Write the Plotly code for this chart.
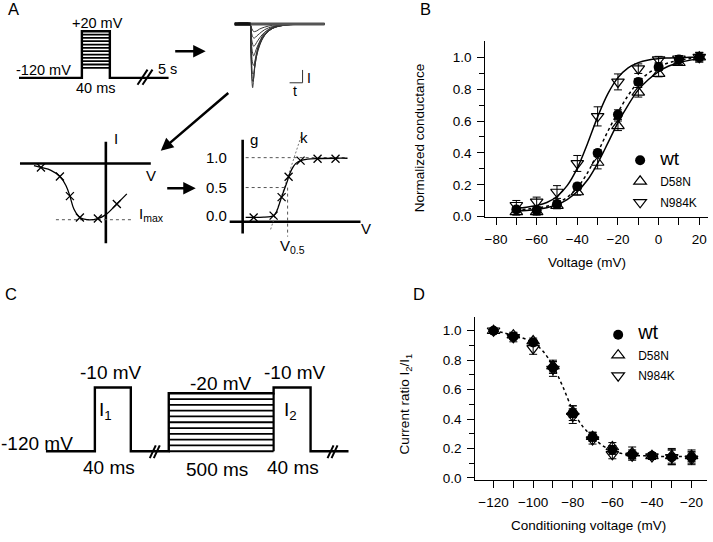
import plotly.graph_objects as go

W, H = 713, 542
FONT = "Arial, 'Liberation Sans', sans-serif"

# ---------------- Panel B: activation ----------------
act_voltage = [-70, -60, -50, -40, -30, -20, -10, 0, 10, 20]
act_wt = [0.045, 0.04, 0.08, 0.19, 0.40, 0.64, 0.845, 0.938, 0.985, 1.0]
act_wt_err = [0.02, 0.02, 0.02, 0.02, 0.02, 0.03, 0.02, 0.02, 0.01, 0.03]
act_d58n = [0.03, 0.03, 0.07, 0.155, 0.34, 0.57, 0.78, 0.897, 0.965, 1.0]
act_d58n_err = [0.02, 0.02, 0.02, 0.02, 0.04, 0.03, 0.03, 0.02, 0.01, 0.02]
act_n984k = [0.072, 0.093, 0.155, 0.334, 0.629, 0.845, 0.928, 0.985, 0.99, 1.0]
act_n984k_err = [0.03, 0.03, 0.04, 0.05, 0.06, 0.05, 0.03, 0.02, 0.02, 0.03]

act_fit_v = [-70, -65, -60, -55, -50, -45, -40, -35, -30, -25, -20, -15, -10, -5, 0, 5, 10, 15, 20]
act_fit_wt = [0.044, 0.048, 0.054, 0.066, 0.085, 0.122, 0.182, 0.275, 0.402, 0.535, 0.655, 0.76, 0.845,
              0.9, 0.94, 0.965, 0.98, 0.99, 1.0]
act_fit_d58n = [0.035, 0.039, 0.046, 0.057, 0.076, 0.108, 0.158, 0.23, 0.335, 0.461, 0.59, 0.70, 0.795,
                0.86, 0.91, 0.945, 0.965, 0.98, 0.99]
act_fit_n984k = [0.055, 0.06, 0.07, 0.089, 0.127, 0.195, 0.305, 0.458, 0.626, 0.77, 0.872, 0.933, 0.966,
                 0.983, 0.991, 0.995, 0.998, 0.999, 1.0]

# ---------------- Panel D: inactivation ----------------
inact_voltage = [-120, -110, -100, -90, -80, -70, -60, -50, -40, -30, -20]
inact_wt = [1.0, 0.96, 0.92, 0.75, 0.44, 0.28, 0.19, 0.16, 0.15, 0.14, 0.14]
inact_wt_err = [0.01, 0.02, 0.02, 0.04, 0.05, 0.03, 0.03, 0.03, 0.02, 0.05, 0.04]
inact_d58n = [1.0, 0.97, 0.93, 0.76, 0.45, 0.28, 0.21, 0.17, 0.15, 0.15, 0.15]
inact_d58n_err = [0.01, 0.02, 0.02, 0.04, 0.04, 0.03, 0.03, 0.04, 0.02, 0.05, 0.04]
inact_n984k = [1.0, 0.955, 0.88, 0.74, 0.42, 0.26, 0.16, 0.15, 0.145, 0.14, 0.13]
inact_n984k_err = [0.01, 0.03, 0.04, 0.05, 0.05, 0.03, 0.03, 0.03, 0.02, 0.05, 0.04]
inact_fit_v = [-120, -110, -100, -95, -90, -85, -80, -75, -70, -65, -60, -55, -50, -40, -30, -20]
inact_fit = [1.0, 0.97, 0.92, 0.86, 0.76, 0.62, 0.46, 0.35, 0.28, 0.22, 0.185, 0.165, 0.155, 0.148,
             0.145, 0.145]

# ---------------- Panel A schematics ----------------
protoA_time = [-90, 0, 0, 40, 40, 124]
protoA_mv = [-120, -120, 20, 20, -120, -120]
protoA_step_mv = [-90, -80, -70, -60, -50, -40, -30, -20, -10, 0, 10]
protoA_break_t = [79.6, 93.9, None, 86.7, 101.0]
protoA_break_mv = [-140.7, -95.4, None, -140.7, -95.4]

trace_t = [0, 15, 16, 17, 18, 19, 20, 22, 25, 30, 38, 50, 90]
current_traces = [
    [0, 0, -0.35, -0.8, -1.0, -0.85, -0.66, -0.45, -0.28, -0.14, -0.05, -0.01, 0],
    [0, 0, -0.3, -0.7, -0.9, -0.85, -0.7, -0.5, -0.32, -0.17, -0.06, -0.015, 0],
    [0, 0, -0.25, -0.6, -0.78, -0.78, -0.68, -0.5, -0.34, -0.18, -0.07, -0.02, 0],
    [0, 0, -0.2, -0.48, -0.62, -0.65, -0.6, -0.46, -0.32, -0.18, -0.07, -0.02, 0],
    [0, 0, -0.15, -0.35, -0.46, -0.5, -0.47, -0.38, -0.28, -0.16, -0.07, -0.02, 0],
    [0, 0, -0.1, -0.24, -0.32, -0.35, -0.34, -0.29, -0.22, -0.13, -0.06, -0.02, 0],
    [0, 0, -0.06, -0.15, -0.2, -0.22, -0.22, -0.19, -0.15, -0.09, -0.04, -0.01, 0],
    [0, 0, -0.03, -0.07, -0.1, -0.12, -0.12, -0.11, -0.08, -0.05, -0.02, -0.01, 0],
]
scalebar_t = [55, 68, 68]
scalebar_i = [-0.923, -0.923, -0.722]

iv_axis_v = [-86, 45, None, 0, 0]
iv_axis_i = [0, 0, None, 0.386, -1.42]
iv_curve_v = [-72, -65, -55, -46, -40, -36, -32, -26, -19, -8, 0, 11, 21]
iv_curve_i = [-0.035, -0.07, -0.12, -0.23, -0.39, -0.58, -0.81, -0.96, -1.0, -0.98, -0.91, -0.72, -0.54]
iv_mark_v = [-65, -46, -36, -26, -8, 11]
iv_mark_i = [-0.07, -0.23, -0.58, -0.96, -0.98, -0.72]
imax_v = [-50, 28]
imax_i = [-1.0, -1.0]

gv_axis_v = [-58, 73, None, -45, -45]
gv_axis_g = [-0.071, -0.071, None, 1.30, -0.27]
gv_curve_v = [-42, -34, -24, -17, -14, -11, -8, -6, -3, 0, 1, 4, 8, 13, 20, 30, 48, 60]
gv_curve_g = [0, 0, 0.005, 0.015, 0.03, 0.1, 0.24, 0.34, 0.48, 0.62, 0.68, 0.8, 0.9, 0.95, 0.975, 0.985,
              0.99, 0.99]
gv_mark_v = [-34, -14, -6, 1, 13, 30, 48]
gv_mark_g = [0, 0.03, 0.34, 0.68, 0.95, 0.98, 0.98]
gv_guide_v = [-42, 58, None, -42, 0, 0]
gv_guide_g = [1.0, 1.0, None, 0.5, 0.5, -0.32]
gv_slope_v = [-17, 14]
gv_slope_g = [-0.2, 1.38]
gv_tick_g = [1.0, 0.5, 0.0]

# ---------------- Panel C schematic ----------------
protoC_x = [-49, 0, 0, 36, 36, 74, 74, 179, 179, 216, 216, 254]
protoC_mv = [-120, -120, -10, -10, -120, -120, -20, -20, -10, -10, -120, -120]
protoC_cond_mv = [-120, -110, -100, -90, -80, -70, -60, -50, -40, -30]
protoC_break_x = [55, 61, None, 59, 65, None, 233, 239, None, 237, 243]
protoC_break_mv = [-132, -110, None, -132, -110, None, -132, -110, None, -132, -110]

fig = go.Figure()
layout = dict(width=W, height=H, margin=dict(l=0, r=0, t=0, b=0), autosize=False,
              paper_bgcolor='white', plot_bgcolor='white', font=dict(family=FONT, color='black'))


def canvas(n, box, xref, yref):
    x0, y0, x1, y1 = box
    px0, v0, sx = xref
    py0, w0, sy = yref
    layout[f'xaxis{n}'] = dict(domain=[x0 / W, x1 / W], range=[v0 + (x0 - px0) / sx, v0 + (x1 - px0) / sx],
                               visible=False, anchor=f'y{n}', fixedrange=True)
    layout[f'yaxis{n}'] = dict(domain=[1 - y1 / H, 1 - y0 / H], range=[w0 - (y1 - py0) / sy, w0 + (py0 - y0) / sy],
                               visible=False, anchor=f'x{n}', fixedrange=True)


canvas(3, (5, 12, 190, 100), (81, 0, 0.7), (79, -120, 0.3379))
canvas(4, (225, 8, 335, 100), (234, 0, 1.0), (24.3, 0, 64.7))
canvas(5, (5, 128, 185, 258), (105, 0, 1.0), (166, 0, 57))
canvas(6, (195, 128, 385, 262), (287, 0, 1.0), (220.7, 0, 60.7))
canvas(7, (0, 360, 365, 495), (94, 0, 1.0), (458, -120, 0.5887))


def line(x, y, n, width=2.2, color='black', dash='solid', shape='linear'):
    fig.add_trace(go.Scatter(x=x, y=y, mode='lines', xaxis=f'x{n}', yaxis=f'y{n}', showlegend=False,
                             hoverinfo='skip', line=dict(width=width, color=color, dash=dash, shape=shape)))


def seg_list(levels, a, b):
    xs, ys = [], []
    for v in levels:
        xs += [a, b, None]
        ys += [v, v, None]
    return xs, ys


# Panel A protocol
sx, sy = seg_list(protoA_step_mv, 0, 40)
line(sx, sy, 3, width=1.8)
line(protoA_time, protoA_mv, 3, width=2.4)
line(protoA_break_t, protoA_break_mv, 3, width=2)

# current traces
for tr in current_traces:
    line(trace_t, tr, 4, width=1, color='#333333', shape='spline')
line([trace_t[0], trace_t[-1]], [0, 0], 4, width=3, color='#555555')
line([trace_t[0], trace_t[2]], [0, 0], 4, width=3.5, color='#111111')
line(scalebar_t, scalebar_i, 4, width=1, color='#333333')

# I-V sketch
line(iv_axis_v, iv_axis_i, 5, width=2.6)
line(imax_v, imax_i, 5, width=1, color='#555555', dash='3px,3px')
line(iv_curve_v, iv_curve_i, 5, width=1.3, shape='spline')
fig.add_trace(go.Scatter(x=iv_mark_v, y=iv_mark_i, mode='markers', xaxis='x5', yaxis='y5', showlegend=False,
                         hoverinfo='skip', marker=dict(symbol='x-thin', size=8, line=dict(width=1.3, color='black'))))

# g-V sketch
line(gv_axis_v, gv_axis_g, 6, width=2.6)
line(gv_guide_v, gv_guide_g, 6, width=1, color='#555555', dash='3px,3px')
line(gv_slope_v, gv_slope_g, 6, width=1, color='#777777', dash='2px,2px')
line(gv_curve_v, gv_curve_g, 6, width=1.3, shape='spline')
fig.add_trace(go.Scatter(x=gv_mark_v, y=gv_mark_g, mode='markers', xaxis='x6', yaxis='y6', showlegend=False,
                         hoverinfo='skip', marker=dict(symbol='x-thin', size=8, line=dict(width=1.3, color='black'))))

# Panel C protocol
cx, cy = seg_list(protoC_cond_mv, protoC_x[5], protoC_x[7])
line(cx, cy, 7, width=1.8)
line([protoC_x[7], protoC_x[7]], [-120, -20], 7, width=2.2)
line(protoC_x, protoC_mv, 7, width=2.4)
line(protoC_break_x, protoC_break_mv, 7, width=2)

# Panel B data
err = dict(type='data', color='black', thickness=1, width=4)
line(act_fit_v, act_fit_n984k, '', width=1.5, shape='spline')
line(act_fit_v, act_fit_d58n, '', width=1.5, shape='spline')
line(act_fit_v, act_fit_wt, '', width=1.5, dash='dot', shape='spline')
fig.add_trace(go.Scatter(x=act_voltage, y=act_wt, mode='markers', name='<span style="font-size:19px">wt</span>',
                         marker=dict(symbol='circle', size=10, color='black'), legendgroup='b1',
                         error_y=dict(err, array=act_wt_err), cliponaxis=False, legend='legend'))
fig.add_trace(go.Scatter(x=act_voltage, y=act_d58n, mode='markers', name='D58N', legendgroup='b2',
                         marker=dict(symbol='triangle-up-open', size=11, color='black', line=dict(width=1.2)),
                         error_y=dict(err, array=act_d58n_err), cliponaxis=False, legend='legend'))
fig.add_trace(go.Scatter(x=act_voltage, y=act_n984k, mode='markers', name='N984K', legendgroup='b3',
                         marker=dict(symbol='triangle-down-open', size=11, color='black', line=dict(width=1.2)),
                         error_y=dict(err, array=act_n984k_err), cliponaxis=False, legend='legend'))

# Panel D data
line(inact_fit_v, inact_fit, 2, width=1.5, dash='dot', shape='spline')
fig.add_trace(go.Scatter(x=inact_voltage, y=inact_wt, mode='markers', name='<span style="font-size:20px">wt</span>',
                         xaxis='x2', yaxis='y2', marker=dict(symbol='circle', size=10, color='black'),
                         legendgroup='d1',
                         error_y=dict(err, array=inact_wt_err), cliponaxis=False, legend='legend2'))
fig.add_trace(go.Scatter(x=inact_voltage, y=inact_d58n, mode='markers', name='D58N', xaxis='x2', yaxis='y2',
                         marker=dict(symbol='triangle-up-open', size=11, color='black', line=dict(width=1.2)),
                         legendgroup='d2',
                         error_y=dict(err, array=inact_d58n_err), cliponaxis=False, legend='legend2'))
fig.add_trace(go.Scatter(x=inact_voltage, y=inact_n984k, mode='markers', name='N984K', xaxis='x2', yaxis='y2',
                         marker=dict(symbol='triangle-down-open', size=11, color='black', line=dict(width=1.2)),
                         legendgroup='d3',
                         error_y=dict(err, array=inact_n984k_err), cliponaxis=False, legend='legend2'))

tickfont = dict(size=13.5, color='black', family=FONT)
axis_common = dict(showline=True, linecolor='black', linewidth=1, ticks='outside', ticklen=7, tickwidth=1,
                   tickcolor='black', showgrid=False, zeroline=False, tickfont=tickfont, fixedrange=True,
                   ticklabelstandoff=3)
layout['xaxis'] = dict(axis_common, domain=[485 / W, 708 / W], range=[-85.26, 24.3], anchor='y',
                       tickvals=[-80, -60, -40, -20, 0, 20],
                       minor=dict(ticks='outside', ticklen=7, tickcolor='black', tickvals=[-70, -50, -30, -10, 10]))
layout['yaxis'] = dict(axis_common, domain=[1 - 220 / H, 1 - 42 / H], range=[0, 1.099], anchor='x',
                       tickvals=[0, 0.2, 0.4, 0.6, 0.8, 1.0], tickformat='.1f',
                       minor=dict(ticks='outside', ticklen=5, tickcolor='black', tickvals=[0.1, 0.3, 0.5, 0.7, 0.9]))
layout['xaxis2'] = dict(axis_common, domain=[475 / W, 707 / W], range=[-129.2, -12.2], anchor='y2',
                        tickvals=[-120, -100, -80, -60, -40, -20],
                        minor=dict(ticks='outside', ticklen=7, tickcolor='black', tickvals=[-110, -90, -70, -50, -30]))
layout['yaxis2'] = dict(axis_common, domain=[1 - 487 / H, 1 - 321.9 / H], range=[-0.013, 1.0925], anchor='x2',
                        tickvals=[0, 0.2, 0.4, 0.6, 0.8, 1.0], tickformat='.1f',
                        minor=dict(ticks='outside', ticklen=5, tickcolor='black', tickvals=[0.1, 0.3, 0.5, 0.7, 0.9]))

layout['legend'] = dict(x=620 / W, y=1 - 148 / H, xanchor='left', yanchor='top', bgcolor='rgba(0,0,0,0)',
                        font=dict(size=12, family=FONT, color='black'), tracegroupgap=2, itemwidth=30)
layout['legend2'] = dict(x=598 / W, y=1 - 325 / H, xanchor='left', yanchor='top', bgcolor='rgba(0,0,0,0)',
                         font=dict(size=12, family=FONT, color='black'), tracegroupgap=1.5, itemwidth=30)

ann = []


def text(s, x, y, ref='paper', size=14.5, xanchor='center', yanchor='middle', angle=0, color='black'):
    d = dict(text=s, showarrow=False, font=dict(size=size, family=FONT, color=color), xanchor=xanchor,
             yanchor=yanchor, textangle=angle)
    if ref == 'paper':
        d.update(x=x / W, y=1 - y / H, xref='paper', yref='paper')
    else:
        d.update(x=x, y=y, xref=f'x{ref}', yref=f'y{ref}')
    ann.append(d)


def arrow(tip, tail):
    ann.append(dict(x=tip[0] / W, y=1 - tip[1] / H, xref='paper', yref='paper', ax=tail[0] - tip[0],
                    ay=tail[1] - tip[1], axref='pixel', ayref='pixel', text='', showarrow=True,
                    arrowhead=2, arrowsize=1, arrowwidth=2.5, arrowcolor='black', standoff=0))


# Panel letters
text('A', 12.7, 9, size=16.5)
text('B', 425, 9, size=16.5)
text('C', 10, 298, size=16.5)
text('D', 419, 298, size=16.5)

# Panel A labels
text('+20 mV', 22.9, 45.7, ref=3)
text('-120 mV', -54.3, -96.3, ref=3)
text('40 ms', 20, -149.6, ref=3)
text('5 s', 122.9, -93.4, ref=3)
text('I', 74, -0.85, ref=4, size=14)
text('t', 60, -1.05, ref=4, size=14)
arrow((205, 52), (173, 52))
arrow((160, 153), (229, 94))
arrow((195, 191), (165, 191))
text('I', 6, 0.44, ref=5, size=15, xanchor='left')
text('V', 45, -0.21, ref=5, size=15)
text('I<sub>max</sub>', 31, -0.9, ref=5, size=15, xanchor='left')
for g in gv_tick_g:
    text(f'{g:.1f}', -59, g + (0.04 if g == 0 else 0), ref=6, size=15, xanchor='right')
text('g', -34, 1.31, ref=6, size=15)
text('k', 16, 1.34, ref=6, size=15)
text('V', 79, -0.19, ref=6, size=15)
text('V<sub>0.5</sub>', 5, -0.48, ref=6, size=15)

# Panel C labels
text('-120 mV', -58, -106.4, ref=7, size=19)
text('-10 mV', 16, 15.9, ref=7, size=19)
text('I<sub>1</sub>', 11, -50.4, ref=7, size=19)
text('40 ms', 14, -147.2, ref=7, size=19)
text('-20 mV', 126, -4.0, ref=7, size=19)
text('500 ms', 122, -152.3, ref=7, size=19)
text('-10 mV', 200, 15.9, ref=7, size=19)
text('I<sub>2</sub>', 196, -50.4, ref=7, size=19)
text('40 ms', 198, -147.2, ref=7, size=19)

# Axis titles
text('Voltage (mV)', 587, 266, size=13.5)
text('Normalized conductance', 420, 140, size=13.5, angle=-90)
text('Conditioning voltage (mV)', 588, 533, size=13.5)
text('Current ratio I<sub>2</sub>/I<sub>1</sub>', 406, 410, size=13.5, angle=-90)

layout['annotations'] = ann
fig.update_layout(**layout)
fig.write_html('out.html', config={'displayModeBar': False},
               post_script="document.body.style.margin='0px';")
